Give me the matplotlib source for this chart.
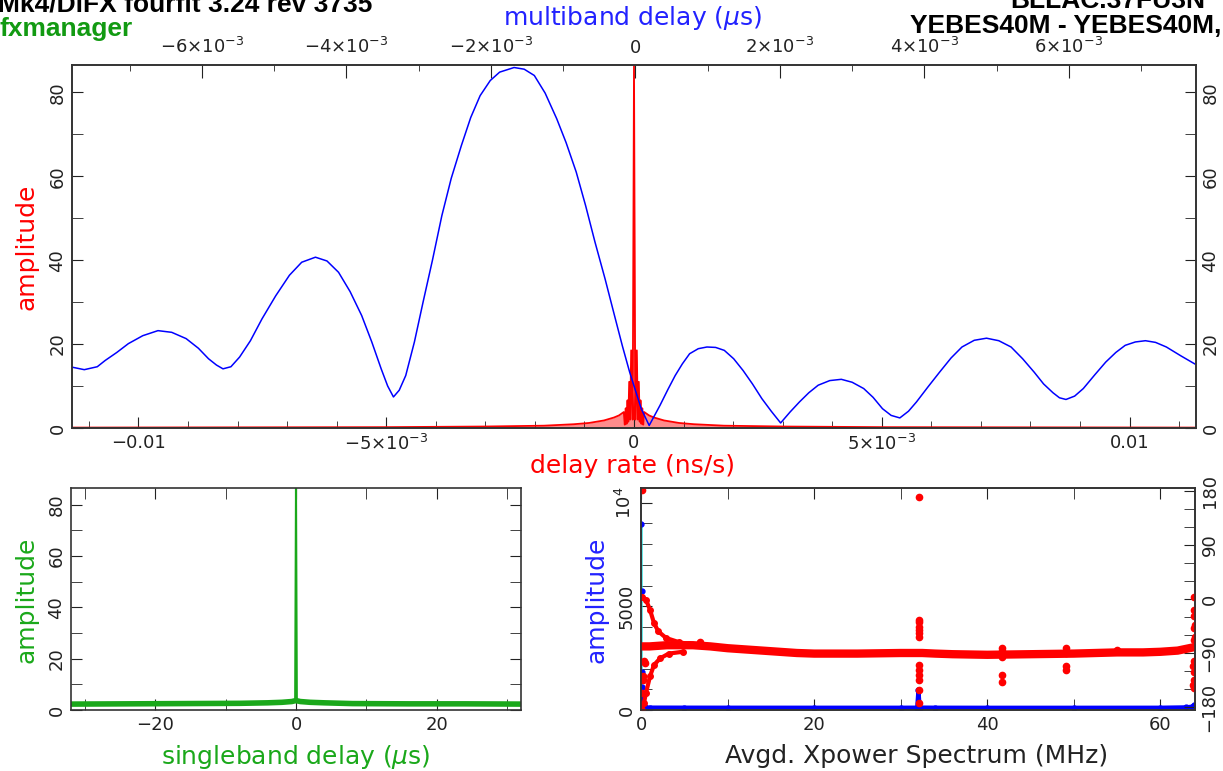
import numpy as np
import matplotlib
matplotlib.use("Agg")
from matplotlib import pyplot as plt

W, H = 1223, 771

# ---- top panel: multiband delay (blue), x in 1e-3 us
mbd_ms = [-7.80, -7.63, -7.45, -7.34, -7.18, -7.02, -6.82, -6.61, -6.42, -6.22,
          -6.05, -5.91, -5.80, -5.71, -5.60, -5.48, -5.33, -5.17, -4.98, -4.79,
          -4.62, -4.43, -4.27, -4.11, -3.95, -3.79, -3.65, -3.52, -3.43, -3.35,
          -3.27, -3.18, -3.06, -2.94, -2.81, -2.68, -2.55, -2.41, -2.28, -2.15,
          -2.01, -1.88, -1.68, -1.54, -1.40, -1.25, -1.09, -0.96, -0.82, -0.69,
          -0.56, -0.42, -0.29, -0.18, -0.08, 0.08, 0.19, 0.34, 0.45, 0.55,
          0.65, 0.75, 0.87, 0.99, 1.11, 1.23, 1.36, 1.49, 1.62, 1.75,
          1.88, 2.01, 2.14, 2.27, 2.40, 2.53, 2.69, 2.85, 3.00, 3.16,
          3.29, 3.42, 3.54, 3.66, 3.78, 3.89, 4.05, 4.21, 4.37, 4.52,
          4.69, 4.86, 5.03, 5.20, 5.36, 5.52, 5.65, 5.78, 5.87, 5.96,
          6.08, 6.20, 6.36, 6.51, 6.65, 6.78, 6.92, 7.06, 7.20, 7.35,
          7.55, 7.74]
mbd_amp = [14.5, 13.9, 14.6, 16.1, 18.0, 20.1, 22.0, 23.2, 22.8, 21.3,
           19.0, 16.5, 15.0, 14.1, 14.6, 16.9, 20.8, 26.0, 31.5, 36.4,
           39.5, 40.7, 39.8, 37.1, 32.5, 26.8, 20.5, 14.1, 10.0, 7.4,
           9.0, 12.5, 20.5, 30.0, 40.0, 50.6, 59.5, 67.3, 74.0, 79.2,
           82.8, 84.8, 85.9, 85.5, 84.0, 79.8, 73.7, 68.0, 61.0, 53.0,
           44.3, 35.5, 26.8, 19.5, 13.3, 4.6, 0.6, 5.4, 9.2, 12.5,
           15.3, 17.7, 18.9, 19.3, 19.2, 18.5, 16.5, 13.7, 10.5, 7.0,
           4.0, 1.2, 3.8, 6.2, 8.4, 10.2, 11.3, 11.6, 10.9, 9.4,
           7.3, 4.6, 3.0, 2.4, 4.0, 6.2, 9.8, 13.3, 16.7, 19.3,
           20.9, 21.4, 20.8, 19.3, 16.5, 13.3, 10.5, 8.4, 7.2, 6.8,
           7.6, 9.4, 12.7, 15.7, 18.0, 19.7, 20.5, 20.8, 20.4, 19.3,
           17.2, 15.3]

# ---- top panel: delay rate (red), x in 1e-3 ns/s
rate_core_ms = [-0.206, -0.186, -0.167, -0.149, -0.131, -0.115, -0.097, -0.077, -0.057, -0.026,
                0.0, 0.026, 0.057, 0.077, 0.097, 0.115, 0.131, 0.149, 0.167, 0.186, 0.206]
rate_core_amp = [3.8, 0.8, 4.7, 1.0, 6.6, 1.5, 11.0, 2.0, 18.5, 2.0,
                 86.4, 2.0, 18.5, 2.0, 11.0, 1.5, 6.6, 1.0, 4.7, 0.8, 3.8]
# envelope of the fringe comb, right half (mirrored on the left)
rate_tail_ms = [0.303, 0.404, 0.605, 0.908, 1.211, 1.816, 3.03, 5.05, 11.34]
rate_tail_amp = [3.0, 2.5, 1.8, 1.2, 0.9, 0.55, 0.35, 0.2, 0.1]

# ---- bottom left: singleband delay (green)
sbd_us = [-32, -24, -16, -8, -4, -2, -0.6, -0.12, 0, 0.12, 0.6, 2, 4, 8, 16, 24, 32]
sbd_amp = [2.3, 2.4, 2.5, 2.6, 2.8, 3.0, 3.3, 3.6, 86.4, 3.6, 3.3, 3.0, 2.8, 2.5, 2.4, 2.4, 2.3]

# ---- bottom right: cross power spectrum
spec_f = [0.0, 0.05, 0.07, 0.09, 0.11, 0.13, 0.16, 0.25, 0.5, 1, 5, 10, 20, 30,
          31.9, 32.05, 32.2, 34, 40, 50, 60, 63, 63.6, 63.9, 64]
spec_amp = [0, 8950, 5730, 1810, 1130, 810, 570, 200, 130, 118, 115, 113, 112, 112,
            115, 970, 120, 113, 110, 110, 112, 130, 160, 230, 200]

band_f = [0.0, 1, 2, 3, 4, 6, 8, 10, 12, 15, 18, 20, 25, 30, 31.5, 32.5,
          34, 36, 40, 45, 50, 55, 58, 60, 62, 63, 64]
band_ph = [-79, -79, -78, -77, -77, -77, -79, -82, -84, -87, -90, -91, -91, -90, -90, -90,
           -91, -92, -93, -92, -91, -89, -89, -88, -86, -83, -80]
upper_f = [0.1, 0.57, 1.04, 1.5, 2.0, 2.9, 4.4, 5.5]
upper_ph = [4, -1, -18, -40, -54, -65, -72, -75]
lower_f = [0.1, 0.33, 0.57, 1.04, 1.5, 2.2, 3.2, 4.8]
lower_ph = [-185, -174, -157, -129, -110, -99, -91, -88]
dots_f = [0.12, 0.33, 0.24, 0.19, 0.1, 0.47,
          32.1, 32.1, 32.1, 32.1, 32.1, 32.1, 32.1, 32.1, 32.1, 32.1, 32.1, 32.1, 32.1,
          41.7, 41.7, 41.7, 41.7, 41.7,
          49.1, 49.1, 49.1, 49.1, 49.1,
          63.9, 63.9, 63.9, 64.0, 63.9, 64.0, 63.9, 63.9, 63.8, 63.9, 63.9, 63.8, 63.9,
          6.8, 55.0]
dots_ph = [182, -104, -129, -135, -157, -107,
           170, -35, -38, -46, -51, -57, -63, -110, -118, -126, -135, -151, -174,
           -82, -86, -96, -126, -138,
           -82, -86, -90, -112, -118,
           4, -18, -29, -43, -49, -63, -68, -104, -112, -121, -135, -143, -149,
           -72, -85]

RED = "#ff0000"
BLUE = "#0000ff"
GREEN = "#1aa81a"
CYAN = "#22dddd"
INK = "#222222"

plt.rcParams["font.family"] = ["DejaVu Sans"]
plt.rcParams["axes.edgecolor"] = "#333333"
plt.rcParams["axes.linewidth"] = 1.2


def box(l, t, r, b):
    return [l / W, 1 - b / H, (r - l) / W, (b - t) / H]


def ftext(x, y, s, **kw):
    fig.text(x / W, 1 - y / H, s, **kw)


def style_y(a):
    # y tick labels run along the axis, like the original plot
    for t in a.yaxis.get_major_ticks():
        t.label1.set_rotation(90)
        t.label1.set_va("center")
        t.label2.set_rotation(90)
        t.label2.set_va("center")


fig = plt.figure(figsize=(W / 100, H / 100), dpi=100)

# ================= top panel =================
ax = fig.add_axes(box(72, 65, 1196, 428))
axt = ax.twiny()

core_x = np.array(rate_core_ms) * 1e-3
tail_x = np.array(rate_tail_ms) * 1e-3
rate_x = np.concatenate([-tail_x[::-1], core_x, tail_x])
rate_y = np.concatenate([rate_tail_amp[::-1], rate_core_amp, rate_tail_amp])
ax.fill_between(rate_x, 0, rate_y, color=RED, alpha=0.45, lw=0)
ax.plot(rate_x, rate_y, color=RED, lw=1.3)
ax.set_xlim(-0.01134, 0.01134)
ax.set_ylim(0, 86.5)

axt.plot(np.array(mbd_ms) * 1e-3, mbd_amp, color=BLUE, lw=1.1)
axt.set_xlim(-7.80e-3, 7.76e-3)

ax.set_xticks([-0.01, -0.005, 0, 0.005, 0.01],
              ["\u22120.01", r"$-5{\times}10^{-3}$", "0", r"$5{\times}10^{-3}$", "0.01"])
ax.set_xticks(np.arange(-11, 12) * 1e-3, minor=True)
ax.set_yticks([0, 20, 40, 60, 80])
ax.set_yticks([10, 30, 50, 70], minor=True)
ax.tick_params(which="both", direction="in", top=False, right=True, labelright=True,
               labelsize=13, colors=INK, length=8, pad=4)
ax.tick_params(axis="x", which="minor", length=5)
axt.set_xticks([-6e-3, -4e-3, -2e-3, 0, 2e-3, 4e-3, 6e-3],
               [r"$-6{\times}10^{-3}$", r"$-4{\times}10^{-3}$", r"$-2{\times}10^{-3}$", "0",
                r"$2{\times}10^{-3}$", r"$4{\times}10^{-3}$", r"$6{\times}10^{-3}$"])
axt.set_xticks(np.arange(-7, 8) * 1e-3, minor=True)
axt.tick_params(which="both", direction="in", labelsize=13, colors=INK, pad=6)
axt.tick_params(which="major", length=9)
axt.tick_params(which="minor", length=4)
style_y(ax)

ftext(26, 247, "amplitude", color=RED, fontsize=18, rotation=90, ha="center", va="center")
ftext(633, 466, "delay rate (ns/s)", color=RED, fontsize=18, ha="center", va="center")
ftext(633, 18, r"multiband delay ($\mu$s)", color="#2222ff", fontsize=18, ha="center", va="center")

# ================= bottom left =================
ax2 = fig.add_axes(box(71, 488, 521, 710))
sbd = np.array(sbd_us)
samp = np.array(sbd_amp)
ax2.plot(sbd, samp, color=GREEN, lw=1.5)
flat = samp < 10
ax2.plot(sbd[flat], samp[flat], color=GREEN, lw=4)
ax2.set_xlim(-32, 32)
ax2.set_ylim(0, 86.5)
ax2.set_xticks([-20, 0, 20], ["\u221220", "0", "20"])
ax2.set_xticks([-30, -10, 10, 30], minor=True)
ax2.set_yticks([0, 20, 40, 60, 80])
ax2.set_yticks([10, 30, 50, 70], minor=True)
ax2.tick_params(which="both", direction="in", top=True, right=True,
                labelsize=13, colors=INK, length=8, pad=4)
style_y(ax2)
ftext(26, 600, "amplitude", color=GREEN, fontsize=18, rotation=90, ha="center", va="center")
ftext(296, 757, r"singleband delay ($\mu$s)", color=GREEN, fontsize=18, ha="center", va="center")

# ================= bottom right =================
ax3 = fig.add_axes(box(641, 488, 1195, 710))
ax3r = ax3.twinx()
ax3.plot(spec_f, spec_amp, color=CYAN, lw=1.3)
ax3.plot(spec_f[8:], spec_amp[8:], color=BLUE, lw=3)
ax3.plot(spec_f, spec_amp, "o", color=BLUE, ms=3.5)
ax3.set_xlim(0, 64)
ax3.set_ylim(0, 10700)
ax3.set_xticks([0, 20, 40, 60])
ax3.set_xticks([10, 30, 50], minor=True)
ax3.set_yticks([0, 5000, 10000], ["0", "5000", r"$10^4$"])
ax3.set_yticks(np.arange(1000, 10001, 1000), minor=True)
ax3.tick_params(which="both", direction="in", top=True, right=False,
                labelsize=13, colors=INK, length=8, pad=4)
style_y(ax3)

ax3r.plot(band_f, band_ph, color=RED, lw=6, solid_capstyle="round")
ax3r.plot(upper_f, upper_ph, "o-", color=RED, lw=3, ms=4)
ax3r.plot(lower_f, lower_ph, "o-", color=RED, lw=3, ms=4)
ax3r.plot(dots_f, dots_ph, "o", color=RED, ms=4.5)
ax3r.set_ylim(-185, 185)
ax3r.set_yticks([-180, -90, 0, 90, 180], ["\u2212180", "\u221290", "0", "90", "180"])
ax3r.set_yticks(np.arange(-150, 151, 30), minor=True)
ax3r.tick_params(which="both", direction="in", labelsize=13, colors=INK, length=8, pad=4)
style_y(ax3r)
ftext(596, 600, "amplitude", color="#2222ff", fontsize=18, rotation=90, ha="center", va="center")
ftext(917, 756, "Avgd. Xpower Spectrum (MHz)", color=INK, fontsize=18, ha="center", va="center")

# ================= headers (cut by the top edge, as in the original) =================
hdr = dict(family=["Liberation Sans", "DejaVu Sans"], fontweight="bold", fontsize=19, va="baseline")
ftext(-2, 11, "Mk4/DiFX fourfit 3.24 rev 3735", color="black", ha="left", **hdr)
ftext(1010, 8, "BLLAC.37FU3N", color="black", ha="left", **hdr)
ftext(910, 33, "YEBES40M - YEBES40M,", color="black", ha="left", **hdr)
ftext(0, 36, "fxmanager", color="#129a12", ha="left", **hdr)

fig.savefig("out.png", dpi=100)
